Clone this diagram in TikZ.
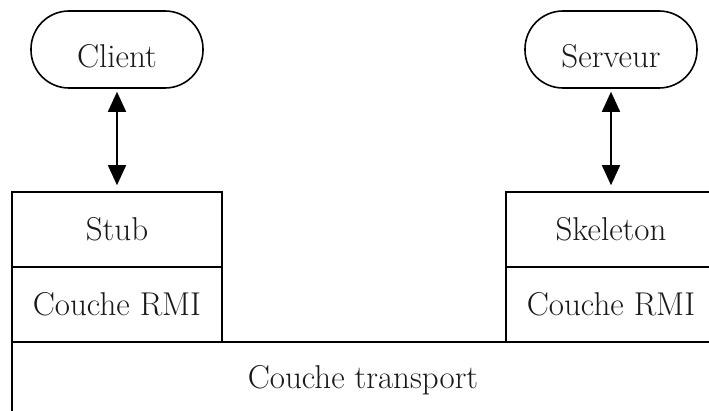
\documentclass[tikz,border=0pt]{standalone}
\usetikzlibrary{arrows.meta}
\newcommand{\lowtext}[1]{\raisebox{-7pt}[\height][\depth]{#1}}
\begin{document}
\begin{tikzpicture}[x=1pt,y=-1pt,
  lbl/.style={font=\fontsize{33}{40}\selectfont, text=black!90},
  pill/.style={draw, line width=1.6pt, rounded corners=38pt, minimum width=172pt, minimum height=77pt, inner sep=0pt, lbl},
  layer/.style={draw, line width=1.6pt, minimum width=210pt, minimum height=75pt, inner sep=0pt, lbl},
  link/.style={line width=1.6pt, {Triangle[length=20pt,width=18pt]}-{Triangle[length=20pt,width=18pt]}}
]
\useasboundingbox (0,0) rectangle (709,411);
\clip (0,0) rectangle (709,411);
\fill[white] (0,0) rectangle (709,411);
\node[pill] (client) at (117,49.5) {\lowtext{Client}};
\node[pill] (serveur) at (611,49.5) {\lowtext{Serveur}};
\node[layer] (stub) at (117,229.5) {Stub};
\node[layer] (rmil) at (117,304.5) {Couche RMI};
\node[layer] (skel) at (611,229.5) {Skeleton};
\node[layer] (rmir) at (611,304.5) {Couche RMI};
\node[draw, line width=1.6pt, minimum width=702pt, minimum height=76pt, inner sep=0pt, lbl] (transport) at (363,380) {Couche transport};
\draw[link] ([yshift=-3pt]client.south) -- ([yshift=6pt]stub.north);
\draw[link] ([yshift=-3pt]serveur.south) -- ([yshift=6pt]skel.north);
\end{tikzpicture}
\end{document}
